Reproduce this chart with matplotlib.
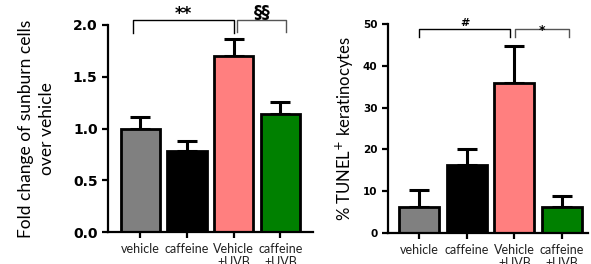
#!/usr/bin/env python3
import matplotlib
matplotlib.use("Agg")
import matplotlib.pyplot as plt
import numpy as np

# Groups shared by both panels
groups = ["vehicle", "caffeine", "Vehicle\n+UVB", "caffeine\n+UVB"]
bar_colors = ["#808080", "#000000", "#FF7F7F", "#008000"]

# Left panel: fold change of sunburn cells (mean, SEM)
sunburn_mean = [1.00, 0.78, 1.70, 1.14]
sunburn_err = [0.11, 0.10, 0.16, 0.12]
sunburn_ticks = [0.0, 0.5, 1.0, 1.5, 2.0]

# Right panel: % TUNEL+ keratinocytes (mean, SEM)
tunel_mean = [6.3, 16.3, 35.8, 6.3]
tunel_err = [4.0, 3.8, 8.9, 2.6]
tunel_ticks = [0, 10, 20, 30, 40, 50]


def style_axis(ax, ticks, fmt, tick_size):
    for side in ("top", "right"):
        ax.spines[side].set_visible(False)
    for side in ("left", "bottom"):
        ax.spines[side].set_linewidth(1.6)
    ax.set_yticks(ticks)
    ax.set_yticklabels([fmt.format(t) for t in ticks], fontweight="bold",
                       fontsize=tick_size, family="DejaVu Sans")
    ax.tick_params(axis="both", width=1.6, length=4, direction="out")
    ax.set_xticks(range(len(groups)))
    ax.set_xticklabels(groups, fontsize=9, family="Lato", color="#222222",
                       linespacing=1.1)
    ax.tick_params(axis="x", pad=4)


def draw_bars(ax, means, errs):
    x = np.arange(len(means))
    ax.bar(x, means, width=0.84, color=bar_colors, edgecolor="black",
           linewidth=2.0, zorder=2)
    ax.errorbar(x, means, yerr=[np.zeros(len(errs)), errs], fmt="none",
                ecolor="black", elinewidth=2.2, capsize=7.5, capthick=2.2,
                zorder=1)


def bracket(ax, x0, x1, y, leg, label, color, fontsize, dy, family="DejaVu Sans"):
    ax.plot([x0, x0, x1, x1], [y - leg, y, y, y - leg], color=color,
            linewidth=1.0, clip_on=False)
    ax.text((x0 + x1) / 2, y + dy, label, ha="center", va="bottom",
            fontsize=fontsize, fontweight="bold", color="black", family=family)


def main():
    fig = plt.figure(figsize=(5.91, 2.64), dpi=100)

    # 1) Sunburn cells
    ax_l = fig.add_axes([108 / 591, 32 / 264, 205 / 591, 207 / 264])
    draw_bars(ax_l, sunburn_mean, sunburn_err)
    ax_l.set_ylim(0, 2.0)
    ax_l.set_xlim(-0.69, 3.7)
    style_axis(ax_l, sunburn_ticks, "{:.1f}", 10)
    ax_l.set_ylabel("Fold change of sunburn cells\nover vehicle", fontsize=12.5,
                    family="Lato", labelpad=13, linespacing=1.35)
    bracket(ax_l, -0.15, 2.0, 2.05, 0.13, "**", "black", 12, -0.03)
    bracket(ax_l, 2.08, 3.13, 2.05, 0.12, "§§", "#555555", 12, -0.02)

    # 2) TUNEL+ keratinocytes
    ax_r = fig.add_axes([388 / 591, 31 / 264, 200 / 591, 209 / 264])
    draw_bars(ax_r, tunel_mean, tunel_err)
    ax_r.set_ylim(0, 50)
    ax_r.set_xlim(-0.66, 3.55)
    style_axis(ax_r, tunel_ticks, "{:.0f}", 7.5)
    ax_r.set_ylabel("% TUNEL$^{+}$ keratinocytes", fontsize=12,
                    family="Lato", labelpad=5)
    bracket(ax_r, 0.0, 1.9, 48.8, 2.0, "#", "black", 8, 0.2)
    bracket(ax_r, 2.02, 3.16, 48.8, 2.0, "*", "#555555", 9, -1.8)

    fig.savefig("out.png", dpi=100)


if __name__ == "__main__":
    main()
